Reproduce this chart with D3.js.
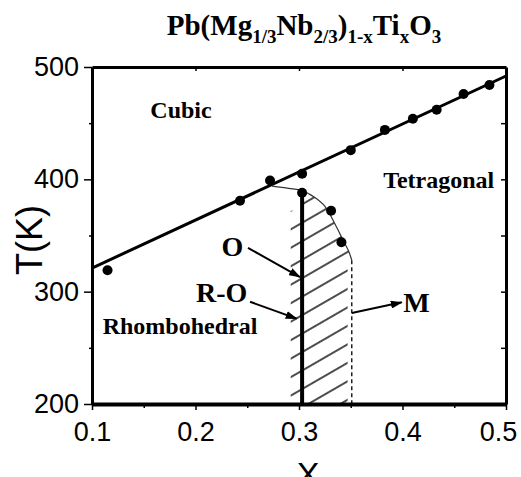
<!DOCTYPE html>
<html>
<head>
<meta charset="utf-8">
<script src="https://cdn.jsdelivr.net/npm/d3@7"></script>
<style>
  body { margin: 0; background: #fff; }
</style>
</head>
<body>
<svg id="chart" width="521" height="477"></svg>
<script>
// data
const xTicks = [0.1, 0.2, 0.3, 0.4, 0.5];
const tTicks = [200, 300, 400, 500];

const cubicX = [0.115, 0.243, 0.272, 0.303, 0.350, 0.383, 0.410, 0.433, 0.459, 0.484];
const cubicT = [319, 381, 399, 405, 426, 444, 454, 462, 476, 484];

const lowX = [0.303, 0.331, 0.341];
const lowT = [388, 372, 344];

const fitX = [0.1, 0.5];
const fitT = [321, 492];

const arcX = [0.274, 0.290, 0.303, 0.315, 0.325, 0.336, 0.343, 0.348, 0.351];
const arcT = [394, 392, 390, 384, 376, 358, 345, 336, 328];

const roBoundX = 0.303;   // thick R / O boundary
const roBoundT = [388, 200];
const mBoundX = 0.351;    // dashed M boundary
const mBoundT = [328, 200];

const regionNames = ["Cubic", "Tetragonal", "Rhombohedral"];
const regionX = [0.186, 0.435, 0.185];
const regionT = [455, 392, 262];

const phaseNames = ["O", "R-O", "M"];
const phaseX = [0.2357, 0.2253, 0.4135];
const phaseT = [332, 291, 282];
const arrowFromX = [0.2507, 0.2527, 0.351];
const arrowFromT = [339, 291, 281];
const arrowToX = [0.301, 0.2978, 0.3993];
const arrowToT = [313, 276, 290.5];

const svg = d3.select("#chart");
const serif = "'Liberation Serif', 'Times New Roman', serif";
const sans = "'Liberation Sans', Arial, sans-serif";

const x = d3.scaleLinear().domain([0.1, 0.5]).range([92, 506]);
const y = d3.scaleLinear().domain([200, 500]).range([404, 67]);

// title with subscripts
const title = svg.append("text")
  .attr("x", 304).attr("y", 35)
  .attr("text-anchor", "middle")
  .style("font-family", serif).style("font-weight", "bold").style("font-size", "29px");
const parts = [["Pb(Mg", 0], ["1/3", 1], ["Nb", 0], ["2/3", 1], [")", 0], ["1-x", 1], ["Ti", 0], ["x", 1], ["O", 0], ["3", 1]];
let shift = 0;
parts.forEach(([s, sub]) => {
  const want = sub ? 8 : 0;
  title.append("tspan")
    .attr("dy", want - shift)
    .style("font-size", sub ? "19px" : "29px")
    .text(s);
  shift = want;
});

const defs = svg.append("defs");
defs.append("marker")
  .attr("id", "arrow")
  .attr("markerUnits", "userSpaceOnUse")
  .attr("markerWidth", 12).attr("markerHeight", 8)
  .attr("refX", 11).attr("refY", 4)
  .attr("orient", "auto")
  .append("path").attr("d", "M0,0 L12,4 L0,8 z").attr("fill", "#000");

defs.append("pattern")
  .attr("id", "hatch")
  .attr("patternUnits", "userSpaceOnUse")
  .attr("width", 20).attr("height", 16)
  .attr("patternTransform", "rotate(-30)")
  .append("line")
  .attr("x1", 0).attr("y1", 8).attr("x2", 20).attr("y2", 8)
  .attr("stroke", "#000").attr("stroke-width", 1.4);

// hatched monoclinic / orthorhombic region
const arcPts = arcX.map((v, i) => [v, arcT[i]]);
const region = [[roBoundX, 200], [roBoundX, roBoundT[0]]]
  .concat(arcPts.filter(p => p[0] > roBoundX))
  .concat([[mBoundX - 0.004, 328], [mBoundX - 0.004, 200]]);
svg.append("path")
  .attr("d", d3.line().x(d => x(d[0])).y(d => y(d[1]))(region) + "Z")
  .attr("fill", "url(#hatch)");
// short hatch strip left of the boundary
svg.append("path")
  .attr("d", d3.line().x(d => x(d[0])).y(d => y(d[1]))([[roBoundX - 0.011, 200], [roBoundX - 0.011, 372], [roBoundX, 372], [roBoundX, 200]]) + "Z")
  .attr("fill", "url(#hatch)");

// axes frame
const gx = svg.append("g").attr("transform", `translate(0,${y(200)})`)
  .call(d3.axisBottom(x).tickValues(xTicks).tickSize(6).tickSizeOuter(0).tickPadding(12).tickFormat(d3.format(".1f")));
gx.selectAll(".tick text").filter(d => d === 0.5).attr("dx", -8);
svg.append("g").attr("transform", `translate(0,${y(200)})`)
  .call(d3.axisBottom(x).tickValues([0.15, 0.25, 0.35, 0.45]).tickSize(4).tickSizeOuter(0).tickFormat(""));
const gy = svg.append("g").attr("transform", `translate(${x(0.1)},0)`)
  .call(d3.axisLeft(y).tickValues(tTicks).tickSize(8).tickSizeOuter(0).tickPadding(5));
svg.append("g").attr("transform", `translate(${x(0.1)},0)`)
  .call(d3.axisLeft(y).tickValues([250, 350, 450]).tickSize(3).tickSizeOuter(0).tickFormat(""));
svg.append("g").attr("transform", `translate(0,${y(500)})`)
  .call(d3.axisBottom(x).tickValues([0.2, 0.3, 0.4]).tickSize(4).tickSizeOuter(0).tickFormat(""));
svg.append("g").attr("transform", `translate(${x(0.5)},0)`)
  .call(d3.axisLeft(y).tickValues([250, 300, 350, 400, 450]).tickSize(5).tickSizeOuter(0).tickFormat(""));

svg.selectAll(".domain").attr("stroke", "#000").attr("stroke-width", 3);
gx.select(".domain").attr("stroke-width", 4);
svg.selectAll(".tick line").attr("stroke", "#000").attr("stroke-width", 1.5);
svg.selectAll(".tick text").attr("fill", "#000")
  .style("font-family", sans).style("font-size", "27px");

// axis titles
svg.append("text")
  .attr("transform", "translate(42,240) rotate(-90)")
  .attr("text-anchor", "middle")
  .style("font-family", sans).style("font-size", "36px")
  .text("T(K)");
svg.append("text")
  .attr("x", 308).attr("y", 486)
  .attr("text-anchor", "middle")
  .style("font-family", sans).style("font-size", "34px")
  .text("X");

// cubic transition line
svg.append("path")
  .attr("d", d3.line().x(d => x(d)).y((d, i) => y(fitT[i]))(fitX))
  .attr("stroke", "#000").attr("stroke-width", 3).attr("fill", "none");

// curved boundary (thin)
svg.append("path")
  .attr("d", d3.line().curve(d3.curveCatmullRom).x(d => x(d[0])).y(d => y(d[1]))(arcPts))
  .attr("stroke", "#333").attr("stroke-width", 1.2).attr("fill", "none");

// dashed M boundary
svg.append("line")
  .attr("x1", x(mBoundX)).attr("x2", x(mBoundX))
  .attr("y1", y(mBoundT[0])).attr("y2", y(mBoundT[1]))
  .attr("stroke", "#000").attr("stroke-width", 1.3).attr("stroke-dasharray", "4,3");

// thick R/O boundary
svg.append("line")
  .attr("x1", x(roBoundX)).attr("x2", x(roBoundX))
  .attr("y1", y(roBoundT[0])).attr("y2", y(roBoundT[1]))
  .attr("stroke", "#000").attr("stroke-width", 4);

// measured points
svg.append("g").selectAll("circle")
  .data(cubicX.map((v, i) => [v, cubicT[i]]).concat(lowX.map((v, i) => [v, lowT[i]])))
  .join("circle")
  .attr("cx", d => x(d[0])).attr("cy", d => y(d[1]))
  .attr("r", 5).attr("fill", "#000");

// region names
svg.append("g").selectAll("text")
  .data(regionNames)
  .join("text")
  .attr("x", (d, i) => x(regionX[i])).attr("y", (d, i) => y(regionT[i]))
  .attr("text-anchor", "middle")
  .style("font-family", serif).style("font-weight", "bold").style("font-size", "24px")
  .text(d => d);

// phase labels with arrows
svg.append("g").selectAll("text")
  .data(phaseNames)
  .join("text")
  .attr("x", (d, i) => x(phaseX[i])).attr("y", (d, i) => y(phaseT[i]))
  .attr("text-anchor", "middle")
  .style("font-family", serif).style("font-weight", "bold").style("font-size", "28px")
  .text(d => d);

svg.append("g").selectAll("line")
  .data(phaseNames)
  .join("line")
  .attr("x1", (d, i) => x(arrowFromX[i])).attr("y1", (d, i) => y(arrowFromT[i]))
  .attr("x2", (d, i) => x(arrowToX[i])).attr("y2", (d, i) => y(arrowToT[i]))
  .attr("stroke", "#000").attr("stroke-width", 2)
  .attr("marker-end", "url(#arrow)");
</script>
</body>
</html>
